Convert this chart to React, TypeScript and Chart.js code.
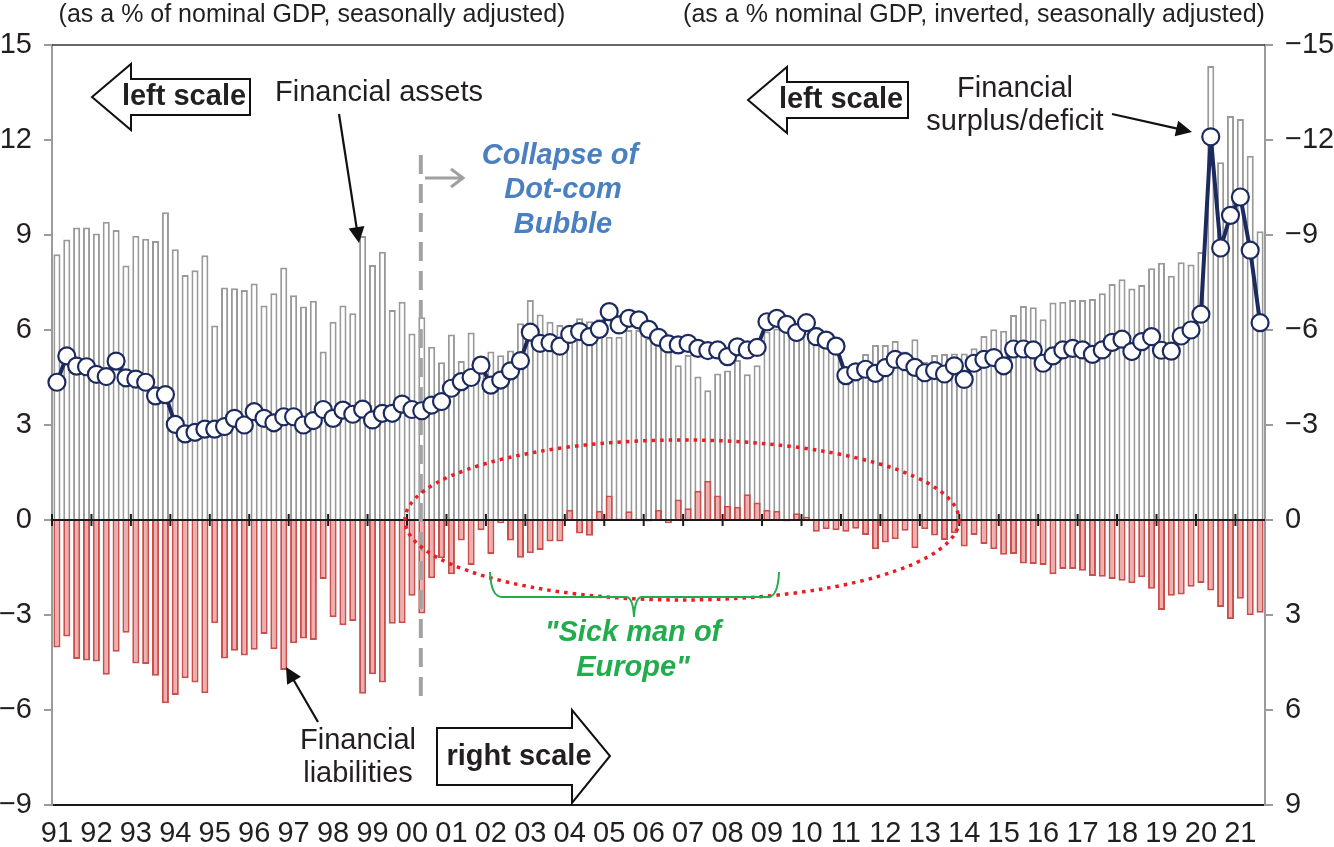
import React, { useEffect, useRef } from 'react';
import { Chart, registerables } from 'chart.js';

Chart.register(...registerables);

// ---------- DATA ----------
const yearLabels = ['91','92','93','94','95','96','97','98','99','00','01','02','03','04','05','06','07','08','09','10','11','12','13','14','15','16','17','18','19','20','21'];
const quarterNames = ['Q1', 'Q2', 'Q3', 'Q4'];
// 1991 Q1 ... 2021 Q3
const quarterLabels = yearLabels.flatMap((y) => quarterNames.map((q) => `${y} ${q}`)).slice(0, 123);

// Financial assets (% of nominal GDP, left scale)
const financialAssets = [
  8.39, 8.86, 9.24, 9.24, 9.05, 9.42, 9.16, 8.04, 8.98, 8.88, 8.81, 9.72,
  8.55, 7.74, 7.89, 8.36, 6.14, 7.34, 7.32, 7.26, 7.47, 6.77, 7.16, 7.97,
  7.10, 6.74, 6.92, 5.32, 6.26, 6.77, 6.53, 8.97, 8.05, 8.47, 6.63, 6.89,
  5.89, 6.40, 5.47, 4.98, 5.86, 5.02, 5.92, 5.16, 5.32, 5.20, 5.35, 6.21,
  6.95, 6.49, 6.26, 6.16, 6.10, 6.37, 6.28, 6.34, 5.79, 5.79, 6.00, 6.00,
  5.74, 5.58, 5.42, 4.89, 5.21, 4.53, 4.10, 4.63, 4.72, 5.05, 4.60, 4.89,
  5.95, 6.05, 6.10, 5.79, 5.90, 6.10, 5.95, 5.79, 4.74, 4.74, 5.24, 5.53,
  5.53, 5.65, 5.32, 5.71, 5.00, 5.21, 5.24, 5.26, 5.26, 5.42, 5.81, 6.02,
  5.98, 6.47, 6.76, 6.72, 6.34, 6.87, 6.89, 6.95, 6.95, 6.98, 7.16, 7.45,
  7.60, 7.31, 7.42, 7.95, 8.12, 7.71, 8.14, 8.07, 8.46, 14.34, 11.30, 12.76,
  12.66, 11.50, 9.12,
];

// Financial liabilities (% of nominal GDP, right scale, inverted)
const financialLiabilities = [
  4.03, 3.68, 4.39, 4.44, 4.47, 4.89, 4.16, 3.56, 4.53, 4.55, 4.92, 5.79,
  5.53, 5.00, 5.13, 5.47, 3.26, 4.37, 4.13, 4.28, 4.10, 3.60, 4.08, 4.74,
  3.89, 3.74, 3.79, 1.86, 3.07, 3.32, 3.19, 5.49, 4.87, 5.13, 3.28, 3.26,
  2.39, 2.95, 1.84, 1.21, 1.71, 0.65, 1.42, 0.32, 1.07, 0.10, 0.65, 1.19,
  1.05, 0.95, 0.68, 0.68, -0.32, 0.43, 0.50, -0.29, -0.77, -0.05, -0.28, -0.05,
  0.05, -0.32, 0.10, -0.65, -0.37, -0.92, -1.24, -0.77, -0.45, -0.42, -0.81, -0.55,
  -0.32, -0.29, 0.05, -0.21, -0.10, 0.37, 0.29, 0.32, 0.37, 0.28, 0.47, 0.92,
  0.71, 0.61, 0.34, 0.89, 0.29, 0.49, 0.63, 0.42, 0.84, 0.47, 0.76, 0.92,
  1.10, 1.07, 1.37, 1.39, 1.42, 1.71, 1.55, 1.55, 1.60, 1.77, 1.79, 1.86,
  1.92, 2.00, 1.81, 2.17, 2.84, 2.39, 2.35, 2.11, 1.99, 2.23, 2.75, 3.13,
  2.49, 3.01, 2.93,
];

// Financial surplus/deficit (% of nominal GDP)
const financialSurplus = [
  4.35, 5.18, 4.86, 4.84, 4.60, 4.53, 5.02, 4.49, 4.45, 4.35, 3.92, 3.96,
  3.02, 2.72, 2.77, 2.87, 2.87, 2.95, 3.21, 3.00, 3.42, 3.21, 3.07, 3.26,
  3.26, 3.00, 3.14, 3.49, 3.21, 3.47, 3.34, 3.50, 3.16, 3.37, 3.37, 3.66,
  3.49, 3.45, 3.63, 3.74, 4.16, 4.37, 4.50, 4.89, 4.26, 4.42, 4.71, 5.03,
  5.93, 5.58, 5.60, 5.49, 5.86, 5.95, 5.79, 6.02, 6.58, 6.16, 6.37, 6.32,
  6.02, 5.77, 5.56, 5.53, 5.58, 5.42, 5.35, 5.37, 5.16, 5.47, 5.37, 5.45,
  6.26, 6.37, 6.18, 5.92, 6.23, 5.79, 5.68, 5.49, 4.56, 4.68, 4.76, 4.63,
  4.81, 5.07, 5.00, 4.82, 4.65, 4.72, 4.61, 4.87, 4.44, 4.95, 5.07, 5.13,
  4.87, 5.40, 5.40, 5.37, 4.95, 5.18, 5.37, 5.42, 5.37, 5.23, 5.37, 5.61,
  5.71, 5.32, 5.63, 5.79, 5.36, 5.33, 5.81, 6.00, 6.50, 12.10, 8.59, 9.62,
  10.20, 8.52, 6.23,
];

const leftAxisRange = [-9, 15];
const rightAxisRange = [-15, 9];
const tickStep = 3;
const dotcomIndex = 37; // 2000 Q2

// ---------- STYLE ----------
const FONT = "'Liberation Sans', Arial, Helvetica, sans-serif";
const TEXT = '#231f20';

function fmt(v: number): string {
  return v < 0 ? '\u2212' + Math.abs(v) : String(v);
}

function text(ctx: CanvasRenderingContext2D, s: string, x: number, y: number, font: string, color = TEXT, align: CanvasTextAlign = 'center') {
  ctx.save();
  ctx.font = font;
  ctx.fillStyle = color;
  ctx.textAlign = align;
  ctx.textBaseline = 'middle';
  ctx.fillText(s, x, y);
  ctx.restore();
}

function arrow(ctx: CanvasRenderingContext2D, x1: number, y1: number, x2: number, y2: number, color = '#111', lw = 2.2, head = 16) {
  const ang = Math.atan2(y2 - y1, x2 - x1);
  ctx.save();
  ctx.strokeStyle = color;
  ctx.fillStyle = color;
  ctx.lineWidth = lw;
  ctx.beginPath();
  ctx.moveTo(x1, y1);
  ctx.lineTo(x2 - Math.cos(ang) * head * 0.8, y2 - Math.sin(ang) * head * 0.8);
  ctx.stroke();
  ctx.beginPath();
  ctx.moveTo(x2, y2);
  ctx.lineTo(x2 - head * Math.cos(ang) + (head * 0.5) * Math.sin(ang), y2 - head * Math.sin(ang) - (head * 0.5) * Math.cos(ang));
  ctx.lineTo(x2 - head * Math.cos(ang) - (head * 0.5) * Math.sin(ang), y2 - head * Math.sin(ang) + (head * 0.5) * Math.cos(ang));
  ctx.closePath();
  ctx.fill();
  ctx.restore();
}

function blockArrow(ctx: CanvasRenderingContext2D, pts: number[][]) {
  ctx.save();
  ctx.beginPath();
  pts.forEach((p, i) => (i === 0 ? ctx.moveTo(p[0], p[1]) : ctx.lineTo(p[0], p[1])));
  ctx.closePath();
  ctx.fillStyle = '#fff';
  ctx.fill();
  ctx.strokeStyle = '#111';
  ctx.lineWidth = 2;
  ctx.lineJoin = 'miter';
  ctx.stroke();
  ctx.restore();
}

const annotationPlugin = {
  id: 'kooAnnotations',
  afterDatasetDraw(chart: any, args: any) {
    if (args.index !== 2) return;
    const { ctx, chartArea } = chart;
    const xs = chart.scales.x;
    const ys = chart.scales.y;
    const y0 = ys.getPixelForValue(0);
    const cat = (xs.right - xs.left) / quarterLabels.length;
    ctx.save();
    // zero line
    ctx.strokeStyle = '#1a1a1a';
    ctx.lineWidth = 2;
    ctx.beginPath();
    ctx.moveTo(chartArea.left, y0);
    ctx.lineTo(chartArea.right, y0);
    ctx.stroke();
    // year ticks on zero line
    for (let k = 0; k < yearLabels.length; k++) {
      const x = xs.getPixelForValue(k * 4) - cat / 2;
      ctx.beginPath();
      ctx.moveTo(x, y0 - 6);
      ctx.lineTo(x, y0 + 6);
      ctx.stroke();
    }
    // top frame line
    ctx.strokeStyle = '#333';
    ctx.lineWidth = 1.5;
    ctx.beginPath();
    ctx.moveTo(chartArea.left, chartArea.top);
    ctx.lineTo(chartArea.right, chartArea.top);
    ctx.stroke();
    // dashed line: collapse of dot-com bubble
    const dx = xs.getPixelForValue(dotcomIndex) - 1;
    ctx.strokeStyle = '#a3a3a3';
    ctx.lineWidth = 4;
    ctx.setLineDash([19, 10]);
    ctx.beginPath();
    ctx.moveTo(dx, 155);
    ctx.lineTo(dx, 700);
    ctx.stroke();
    ctx.setLineDash([]);
    // red dotted ellipse
    ctx.strokeStyle = '#ec1c24';
    ctx.lineWidth = 3.5;
    ctx.setLineDash([3.5, 5]);
    ctx.beginPath();
    ctx.ellipse(682, y0, 277, 80, 0, 0, Math.PI * 2);
    ctx.stroke();
    ctx.setLineDash([]);
    ctx.restore();
  },
  afterDatasetsDraw(chart: any) {
    const { ctx } = chart;
    const reg = `29px ${FONT}`;
    const bold = `bold 29px ${FONT}`;
    const bi = `italic bold 29px ${FONT}`;
    const sub = `25px ${FONT}`;

    text(ctx, '(as a % of nominal GDP, seasonally adjusted)', 312, 15, sub);
    text(ctx, '(as a % nominal GDP, inverted, seasonally adjusted)', 974, 15, sub);

    // left scale arrow 1
    blockArrow(ctx, [[92, 97], [131, 64], [131, 79], [250, 79], [250, 115], [131, 115], [131, 130]]);
    text(ctx, 'left scale', 184, 97, bold);
    // left scale arrow 2
    blockArrow(ctx, [[748, 100], [787, 67], [787, 82], [908, 82], [908, 118], [787, 118], [787, 133]]);
    text(ctx, 'left scale', 841, 100, bold);
    // right scale arrow
    blockArrow(ctx, [[437, 728], [572, 728], [572, 710], [610, 756], [572, 803], [572, 785], [437, 785]]);
    text(ctx, 'right scale', 519, 757, bold);

    // Financial assets
    text(ctx, 'Financial assets', 379, 93, reg);
    arrow(ctx, 339, 114, 359, 243);

    // Financial surplus/deficit
    text(ctx, 'Financial', 1015, 89, reg);
    text(ctx, 'surplus/deficit', 1015, 122, reg);
    arrow(ctx, 1112, 114, 1192, 132);

    // Financial liabilities
    text(ctx, 'Financial', 358, 741, reg);
    text(ctx, 'liabilities', 358, 774, reg);
    arrow(ctx, 318, 722, 286, 667);

    // Collapse of dot-com bubble
    const blue = '#4a7fc2';
    text(ctx, 'Collapse of', 560, 156, bi, blue);
    text(ctx, 'Dot-com', 563, 190, bi, blue);
    text(ctx, 'Bubble', 563, 225, bi, blue);
    ctx.save();
    ctx.strokeStyle = '#a0a0a0';
    ctx.lineWidth = 3;
    ctx.beginPath();
    ctx.moveTo(425, 178);
    ctx.lineTo(463, 178);
    ctx.moveTo(451, 169);
    ctx.lineTo(463, 178);
    ctx.lineTo(451, 187);
    ctx.stroke();
    ctx.restore();

    // green brace
    const green = '#21ad4b';
    ctx.save();
    ctx.strokeStyle = green;
    ctx.lineWidth = 2;
    ctx.beginPath();
    ctx.moveTo(490, 572);
    ctx.quadraticCurveTo(491, 597, 502, 597);
    ctx.lineTo(626, 597);
    ctx.quadraticCurveTo(633, 597, 634, 617);
    ctx.quadraticCurveTo(635, 597, 642, 597);
    ctx.lineTo(768, 597);
    ctx.quadraticCurveTo(778, 597, 779, 572);
    ctx.stroke();
    ctx.restore();
    text(ctx, '"Sick man of', 633, 633, bi, green);
    text(ctx, 'Europe"', 633, 668, bi, green);
  },
};

export default function App() {
  const canvasRef = useRef<HTMLCanvasElement | null>(null);

  useEffect(() => {
    if (!canvasRef.current) return;
    const tickFont = { family: FONT, size: 29 };
    const chart = new Chart(canvasRef.current, {
      type: 'bar',
      data: {
        labels: quarterLabels,
        datasets: [
          {
            type: 'line',
            label: 'Financial surplus/deficit',
            data: financialSurplus,
            yAxisID: 'y',
            borderColor: '#1c2a5e',
            borderWidth: 4,
            pointRadius: 8.5,
            pointBorderWidth: 2.2,
            pointBackgroundColor: '#ffffff',
            pointBorderColor: '#1c2a5e',
            tension: 0,
            order: 1,
          } as any,
          {
            type: 'bar',
            label: 'Financial assets',
            data: financialAssets,
            yAxisID: 'y',
            backgroundColor: '#ffffff',
            borderColor: '#999999',
            borderWidth: 2,
            barPercentage: 0.72,
            categoryPercentage: 1,
            grouped: false,
            order: 3,
          } as any,
          {
            type: 'bar',
            label: 'Financial liabilities',
            data: financialLiabilities,
            yAxisID: 'y2',
            backgroundColor: '#eeaeae',
            borderColor: '#c94f4c',
            borderWidth: 2,
            barPercentage: 0.72,
            categoryPercentage: 1,
            grouped: false,
            order: 2,
          } as any,
        ],
      },
      options: {
        animation: false,
        responsive: false,
        maintainAspectRatio: false,
        events: [],
        layout: { padding: { top: 45, left: 0, right: 0, bottom: 0 } },
        plugins: { legend: { display: false }, tooltip: { enabled: false } },
        scales: {
          x: {
            type: 'category',
            offset: true,
            grid: { display: false, drawTicks: false },
            border: { display: true, color: '#1a1a1a', width: 2 },
            ticks: {
              autoSkip: false,
              maxRotation: 0,
              minRotation: 0,
              padding: 12,
              color: TEXT,
              font: tickFont,
              callback: (_v: any, i: number) => (i % 4 === 0 ? yearLabels[i / 4] : ''),
            },
            afterFit: (s: any) => {
              s.height = 42;
            },
          },
          y: {
            position: 'left',
            min: leftAxisRange[0],
            max: leftAxisRange[1],
            grid: { drawOnChartArea: false, drawTicks: true, tickLength: 8, color: '#9b9b9b', lineWidth: 2 },
            border: { display: true, color: '#9b9b9b', width: 2 },
            ticks: { stepSize: tickStep, padding: 12, color: TEXT, font: tickFont, callback: (v: any) => fmt(Number(v)) },
            afterFit: (s: any) => {
              s.width = 52;
            },
          },
          y2: {
            position: 'right',
            min: rightAxisRange[0],
            max: rightAxisRange[1],
            reverse: true,
            grid: { drawOnChartArea: false, drawTicks: true, tickLength: 8, color: '#9b9b9b', lineWidth: 2 },
            border: { display: true, color: '#9b9b9b', width: 2 },
            ticks: { stepSize: tickStep, padding: 12, color: TEXT, font: tickFont, callback: (v: any) => fmt(Number(v)) },
            afterFit: (s: any) => {
              s.width = 69;
            },
          },
        },
      } as any,
      plugins: [annotationPlugin],
    });
    return () => chart.destroy();
  }, []);

  return (
    <div style={{ position: 'fixed', left: 0, top: 0, width: 1334, height: 847, background: '#fff' }}>
      <canvas ref={canvasRef} width={1334} height={847} style={{ display: 'block', width: 1334, height: 847 }} />
    </div>
  );
}
